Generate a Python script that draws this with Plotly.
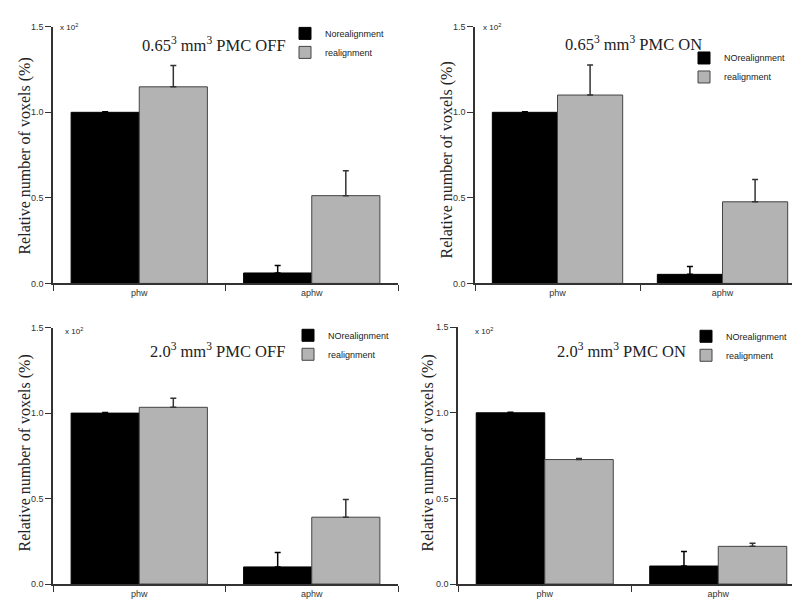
import plotly.graph_objects as go

categories = ["phw", "aphw"]

panel_titles = [
    "0.65<sup>3</sup> mm<sup>3</sup> PMC OFF",
    "0.65<sup>3</sup> mm<sup>3</sup> PMC ON",
    "2.0<sup>3</sup> mm<sup>3</sup> PMC OFF",
    "2.0<sup>3</sup> mm<sup>3</sup> PMC ON",
]
no_names = ["Norealignment", "NOrealignment", "NOrealignment", "NOrealignment"]
re_name = "realignment"

# values (x 10^2 %)
no_vals = [[1.0, 0.061], [1.0, 0.053], [1.0, 0.100], [1.0, 0.105]]
no_errs = [[0.003, 0.044], [0.003, 0.046], [0.003, 0.084], [0.003, 0.085]]
re_vals = [[1.149, 0.513], [1.101, 0.477], [1.034, 0.391], [0.727, 0.220]]
re_errs = [[0.125, 0.146], [0.176, 0.130], [0.053, 0.104], [0.006, 0.018]]

y_ticks = [0.0, 0.5, 1.0, 1.5]
y_ticktext = ["0.0", "0.5", "1.0", "1.5"]
y_title = "Relative number of voxels (%)"

W, H = 800, 600
# pixel geometry of each panel: (x_left, x_right, y_zero, y_top)
geom = [
    (45, 390, 275, 14),
    (467, 797, 275, 14),
    (45, 390, 580.7, 320),
    (450, 797, 580.7, 319.5),
]
title_pos = [(206, 32), (625, 31), (209, 343), (613, 343)]
ytitle_pos = [(17, 146), (438, 150), (17, 448), (420, 448)]
x10_pos = [(50, 14), (473, 14), (55, 323), (465, 323)]
legend_pos = [(277, 6), (676, 31), (280, 313), (678, 314)]

SANS = "Liberation Sans, Arial"
SERIF = "Liberation Serif, Times New Roman"
AX = "#333333"

fig = go.Figure()
annotations = []
layout = {}
for i in range(4):
    sfx = "" if i == 0 else str(i + 1)
    xa, ya = "x" + sfx, "y" + sfx
    leg = "legend" + sfx
    x0, x1, yz, yt = geom[i]
    fig.add_trace(go.Bar(
        x=categories, y=no_vals[i], name=no_names[i], xaxis=xa, yaxis=ya, legend=leg,
        marker=dict(color="black", line=dict(color="black", width=1)),
        error_y=dict(type="data", array=no_errs[i], symmetric=False,
                     arrayminus=[0, 0], color="black", thickness=1.5, width=3),
    ))
    fig.add_trace(go.Bar(
        x=categories, y=re_vals[i], name=re_name, xaxis=xa, yaxis=ya, legend=leg,
        marker=dict(color="#b3b3b3", line=dict(color="#444444", width=1)),
        error_y=dict(type="data", array=re_errs[i], symmetric=False,
                     arrayminus=[0, 0], color="#333333", thickness=1.5, width=3),
    ))
    layout["xaxis" + sfx] = dict(
        domain=[x0 / W, x1 / W], anchor=ya, showline=True, linecolor=AX, linewidth=1.5,
        ticks="outside", tickson="boundaries", ticklen=6, tickwidth=1.2, tickcolor=AX,
        tickfont=dict(family=SANS, size=9, color=AX), showgrid=False, zeroline=False,
        fixedrange=True,
    )
    layout["yaxis" + sfx] = dict(
        domain=[(H - yz) / H, (H - yt) / H], anchor=xa, range=[0, 1.5],
        tickvals=y_ticks, ticktext=y_ticktext, showline=True, linecolor=AX, linewidth=1.5,
        ticks="outside", ticklen=6, tickwidth=1.2, tickcolor=AX,
        tickfont=dict(family=SANS, size=9, color=AX), showgrid=False, zeroline=False,
    )
    lx, ly = legend_pos[i]
    layout[leg] = dict(
        x=lx / W, y=(H - ly) / H, xanchor="left", yanchor="top",
        font=dict(family=SANS, size=9, color="#222222"), bgcolor="rgba(0,0,0,0)",
        itemwidth=30, tracegroupgap=0,
    )
    tx, ty = title_pos[i]
    annotations.append(dict(
        text=panel_titles[i], x=tx / W, y=(H - ty) / H, xref="paper", yref="paper",
        xanchor="center", yanchor="middle", showarrow=False,
        font=dict(family=SERIF, size=16.5, color="#222222"),
    ))
    yx, yy = ytitle_pos[i]
    annotations.append(dict(
        text=y_title, x=yx / W, y=(H - yy) / H, xref="paper", yref="paper",
        xanchor="center", yanchor="middle", textangle=-90, showarrow=False,
        font=dict(family=SERIF, size=16, color="#222222"),
    ))
    px, py = x10_pos[i]
    annotations.append(dict(
        text="x 10<sup>2</sup>", x=px / W, y=(H - py) / H, xref="paper", yref="paper",
        xanchor="left", yanchor="middle", showarrow=False,
        font=dict(family=SANS, size=8, color="#222222"),
    ))

fig.update_layout(
    width=W, height=H, margin=dict(l=0, r=0, t=0, b=0),
    paper_bgcolor="white", plot_bgcolor="white",
    barmode="group", bargap=0.21, bargroupgap=0,
    annotations=annotations, **layout,
)
fig.write_html("out.html")
